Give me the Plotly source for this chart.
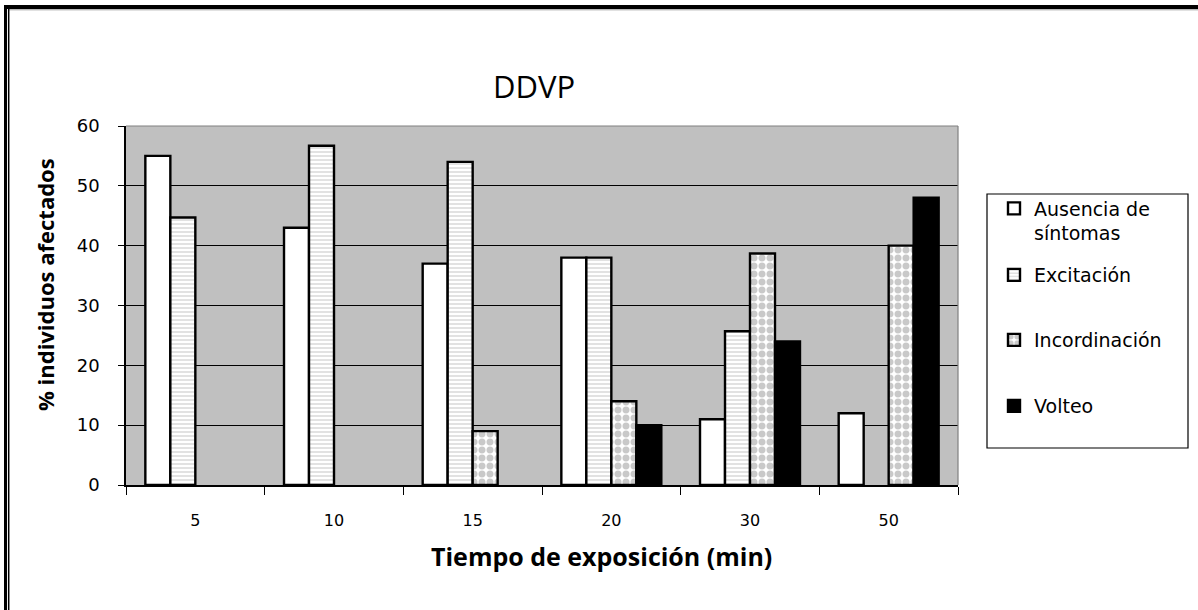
import plotly.graph_objects as go

# Exposure times (minutes) and % of affected individuals per response category
tiempos = ["5", "10", "15", "20", "30", "50"]
ausencia = [55, 43, 37, 38, 11, 12]
excitacion = [44.7, 56.7, 54, 38, 25.7, None]
incordinacion = [None, None, 9, 14, 38.7, 40]
volteo = [None, None, None, 10, 24, 48]

nombres = ["Ausencia de<br>síntomas", "Excitación", "Incordinación", "Volteo"]

# Plot-area geometry in pixels (used to place paper-referenced decorations)
W, H = 1198, 610
PL, PR, PT, PB = 126, 958, 126, 485


def px(x):
    return (x - PL) / (PR - PL)


def py(y):
    return (PB - y) / (PB - PT)


line = dict(color="black", width=2.4)

fig = go.Figure()
fig.add_trace(go.Bar(
    x=tiempos, y=ausencia, name=nombres[0], legend="legend", showlegend=True,
    marker=dict(color="white", line=line),
))
fig.add_trace(go.Bar(
    x=tiempos, y=excitacion, name=nombres[1], legend="legend2", showlegend=True,
    marker=dict(color="white", line=line,
                pattern=dict(shape="-", fgcolor="#b8b8b8", bgcolor="white",
                             size=4, solidity=0.4)),
))
fig.add_trace(go.Bar(
    x=tiempos, y=incordinacion, name=nombres[2], legend="legend3", showlegend=True,
    marker=dict(color="white", line=line,
                pattern=dict(shape=".", fgcolor="#939393", bgcolor="white",
                             size=8, solidity=0.6)),
))
fig.add_trace(go.Bar(
    x=tiempos, y=volteo, name=nombres[3], legend="legend4", showlegend=True,
    marker=dict(color="black", line=line),
))

legend_font = dict(family="DejaVu Sans", size=19, color="black")
leg_common = dict(font=legend_font, bgcolor="rgba(0,0,0,0)", borderwidth=0,
                  xanchor="left", x=px(994), yanchor="middle",
                  itemwidth=30)

shapes = [
    # plot area frame (top and right)
    dict(type="line", xref="paper", yref="paper", x0=0, x1=1, y0=1, y1=1,
         line=dict(color="#808080", width=1.2)),
    dict(type="line", xref="paper", yref="paper", x0=1, x1=1, y0=0, y1=1,
         line=dict(color="#808080", width=1.2)),
    # legend box
    dict(type="rect", xref="paper", yref="paper",
         x0=px(987), x1=px(1188), y0=py(448), y1=py(194),
         line=dict(color="black", width=1.2), fillcolor="rgba(0,0,0,0)"),
    # outer frame
    dict(type="line", xref="paper", yref="paper",
         x0=px(4), x1=px(W), y0=py(7), y1=py(7),
         line=dict(color="black", width=4)),
    dict(type="line", xref="paper", yref="paper",
         x0=px(8), x1=px(W), y0=py(9.8), y1=py(9.8),
         line=dict(color="#9a9a9a", width=1)),
    dict(type="line", xref="paper", yref="paper",
         x0=px(5.5), x1=px(5.5), y0=py(5), y1=py(H),
         line=dict(color="black", width=3)),
    dict(type="line", xref="paper", yref="paper",
         x0=px(8.7), x1=px(8.7), y0=py(9), y1=py(H),
         line=dict(color="black", width=1.5)),
]

annotations = [
    dict(text="<b>Tiempo de exposición (min)</b>", xref="paper", yref="paper",
         x=px(601), y=py(556), showarrow=False, xanchor="center", yanchor="middle",
         font=dict(family="Open Sans", size=25, color="black")),
    dict(text="<b>% individuos afectados</b>", xref="paper", yref="paper",
         x=px(45), y=py(285), showarrow=False, textangle=-90,
         xanchor="center", yanchor="middle",
         font=dict(family="Open Sans", size=22, color="black")),
]

fig.update_layout(
    width=W, height=H,
    margin=dict(l=PL, r=W - PR, t=PT, b=H - PB, pad=0),
    paper_bgcolor="white",
    plot_bgcolor="#c0c0c0",
    barmode="group",
    bargap=0.279,
    bargroupgap=0,
    showlegend=True,
    title=dict(text="DDVP", x=534 / W, y=1 - 87 / H, xref="container",
               yref="container", xanchor="center", yanchor="middle",
               font=dict(family="Open Sans", size=31, color="black")),
    xaxis=dict(
        type="category", tickson="boundaries",
        showline=True, linecolor="black", linewidth=1.5,
        ticks="outside", ticklen=8, tickcolor="black", tickwidth=1,
        showgrid=False, zeroline=False,
        ticklabelstandoff=20,
        tickfont=dict(family="DejaVu Sans", size=16, color="black"),
    ),
    yaxis=dict(
        range=[0, 60], dtick=10, tick0=0,
        showline=True, linecolor="black", linewidth=1.5,
        ticks="outside", ticklen=6, tickcolor="black", tickwidth=1,
        showgrid=True, gridcolor="black", gridwidth=1,
        zeroline=False,
        ticklabelstandoff=15,
        tickfont=dict(family="DejaVu Sans", size=18, color="black"),
    ),
    legend=dict(leg_common, y=py(221), valign="top"),
    legend2=dict(leg_common, y=py(275)),
    legend3=dict(leg_common, y=py(340)),
    legend4=dict(leg_common, y=py(406)),
    shapes=shapes,
    annotations=annotations,
)

fig.write_html("out.html")
